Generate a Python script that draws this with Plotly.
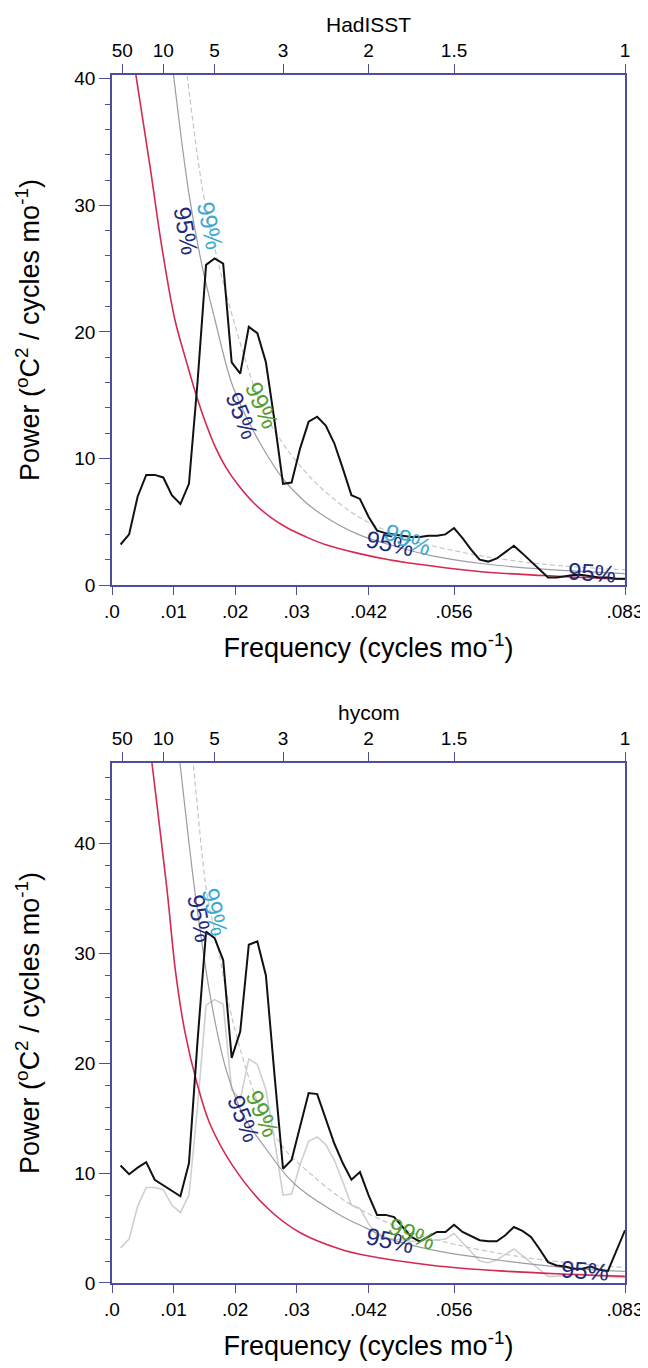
import plotly.graph_objects as go

# ---------------- data ----------------
freq = [0.00139, 0.00278, 0.00417, 0.00556, 0.00694, 0.00833, 0.00972, 0.01111, 0.0125, 0.01389,
        0.01528, 0.01667, 0.01806, 0.01944, 0.02083, 0.02222, 0.02361, 0.025, 0.02639, 0.02778,
        0.02917, 0.03056, 0.03194, 0.03333, 0.03472, 0.03611, 0.0375, 0.03889, 0.04028, 0.04167,
        0.04306, 0.04444, 0.04583, 0.04722, 0.04861, 0.05, 0.05139, 0.05278, 0.05417, 0.05556,
        0.05694, 0.05833, 0.05972, 0.06111, 0.0625, 0.06389, 0.06528, 0.06667, 0.06806, 0.06944,
        0.07083, 0.07222, 0.07361, 0.075, 0.07639, 0.07778, 0.07917, 0.08056, 0.08194, 0.08333]

hadisst = [3.2, 4.0, 7.0, 8.7, 8.7, 8.5, 7.1, 6.4, 8.0, 16.0,
           25.3, 25.8, 25.4, 17.6, 16.7, 20.4, 19.9, 17.6, 13.0, 8.0,
           8.1, 10.8, 12.9, 13.3, 12.6, 11.2, 9.2, 7.1, 6.8, 5.4,
           4.3, 4.1, 4.0, 3.9, 3.8, 3.8, 3.9, 3.9, 4.0, 4.5,
           3.7, 2.8, 2.0, 1.85, 2.1, 2.6, 3.1, 2.5, 1.85, 1.2,
           0.6, 0.6, 0.7, 0.8, 0.8, 0.7, 0.6, 0.6, 0.5, 0.5]

hycom = [10.7, 9.9, 10.5, 11.0, 9.4, 8.9, 8.4, 7.9, 10.9, 22.0,
         32.0, 31.4, 29.4, 20.5, 22.9, 30.8, 31.1, 28.0, 19.0, 10.4,
         11.2, 14.2, 17.3, 17.2, 15.0, 12.7, 10.9, 9.4, 10.1, 8.0,
         6.2, 6.2, 6.0, 5.1, 4.2, 3.8, 4.2, 4.65, 4.65, 5.3,
         4.65, 4.25, 3.9, 3.8, 3.8, 4.35, 5.1, 4.75, 4.2, 3.1,
         1.9, 1.6, 1.5, 1.3, 1.3, 1.5, 1.2, 1.1, 3.0, 4.8]

# red-noise and significance curves, top panel (HadISST)
had_red_f = [0.0035, 0.0062, 0.0080, 0.0102, 0.0120, 0.0135, 0.0150, 0.0167, 0.0185, 0.0205,
             0.0230, 0.0259, 0.0285, 0.0313, 0.0346, 0.0400, 0.0450, 0.0520, 0.0600, 0.0700, 0.0833]
had_red_v = [41.5, 33.0, 27.0, 21.0, 17.8, 15.3, 13.1, 11.0, 9.3, 7.9,
             6.5, 5.3, 4.5, 3.85, 3.2, 2.5, 2.0, 1.5, 1.05, 0.75, 0.45]
had_95_f = [0.0097, 0.0125, 0.0146, 0.0167, 0.0194, 0.0215, 0.0243, 0.0276, 0.0313, 0.0346,
            0.0400, 0.0450, 0.0520, 0.0600, 0.0700, 0.0833]
had_95_v = [41.5, 30.9, 25.3, 21.0, 16.0, 13.6, 11.0, 8.5, 6.6, 5.4,
            4.0, 3.2, 2.3, 1.7, 1.25, 0.9]
had_99_f = [0.0119, 0.0148, 0.0170, 0.0200, 0.0244, 0.0276, 0.0313, 0.0346, 0.0400, 0.0481,
            0.0520, 0.0600, 0.0700, 0.0833]
had_99_v = [41.5, 31.0, 26.0, 20.5, 14.0, 11.3, 9.0, 7.4, 5.4, 3.6,
            3.1, 2.3, 1.65, 1.2]

# bottom panel (hycom)
hy_red_f = [0.0060, 0.0065, 0.0089, 0.0104, 0.0119, 0.0138, 0.0159, 0.0197, 0.0251, 0.0305,
            0.0370, 0.0413, 0.0522, 0.0630, 0.0739, 0.0833]
hy_red_v = [50.0, 47.3, 36.0, 28.0, 22.7, 18.2, 14.5, 10.6, 6.9, 4.6,
            3.1, 2.5, 1.6, 1.1, 0.8, 0.6]
hy_95_f = [0.0105, 0.01105, 0.0135, 0.0160, 0.0185, 0.0214, 0.0249, 0.0283, 0.0305, 0.0370,
           0.0413, 0.0452, 0.0522, 0.0600, 0.0700, 0.0768, 0.0833]
hy_95_v = [50.0, 47.3, 35.5, 26.0, 19.5, 15.2, 12.3, 9.8, 8.6, 6.2,
           5.0, 4.0, 3.0, 2.3, 1.6, 1.25, 1.05]
hy_99_f = [0.0127, 0.0132, 0.0154, 0.0167, 0.0200, 0.0244, 0.0283, 0.0305, 0.0370, 0.0413,
           0.0487, 0.0522, 0.0600, 0.0700, 0.0833]
hy_99_v = [50.0, 47.3, 35.5, 32.0, 23.0, 15.5, 12.0, 10.8, 7.8, 6.4,
           4.6, 4.0, 3.0, 2.1, 1.4]

bottom_tick_vals = [0.0, 0.01, 0.02, 0.03, 0.04167, 0.05556, 0.08333]
bottom_tick_text = [".0", ".01", ".02", ".03", ".042", ".056", ".083"]
top_tick_vals = [0.001667, 0.008333, 0.016667, 0.027778, 0.041667, 0.055556, 0.083333]
top_tick_text = ["50", "10", "5", "3", "2", "1.5", "1"]

# significance labels: (text, f, value, angle, colour key)
had_labels = [("95%", 0.0120, 28.0, 80, "navy"), ("99%", 0.0159, 28.4, 78, "cyan"),
              ("95%", 0.0211, 13.4, 68, "navy"), ("99%", 0.0244, 14.2, 66, "green"),
              ("95%", 0.0452, 3.3, 12, "navy"), ("99%", 0.0481, 3.6, 22, "cyan"),
              ("95%", 0.0780, 1.0, 4, "navy")]
hy_labels = [("95%", 0.0143, 33.2, 80, "navy"), ("99%", 0.0167, 33.8, 78, "cyan"),
             ("95%", 0.0214, 15.0, 68, "navy"), ("99%", 0.0244, 15.4, 66, "green"),
             ("95%", 0.0452, 3.9, 12, "navy"), ("99%", 0.0487, 4.5, 22, "green"),
             ("95%", 0.0768, 1.15, 4, "navy")]

# ---------------- styling ----------------
FONT = "Liberation Sans, Arial, Helvetica, sans-serif"
AXC = "#4b4e9c"
RED = "#d42a52"
G95 = "#9c9ca6"
G99 = "#c6c6c6"
LBL = {"navy": "#1d2a7c", "cyan": "#3aa9d2", "green": "#4f9e2f"}

fig = go.Figure()

def add_panel(xa, ya, red_f, red_v, f95, v95, f99, v99):
    fig.add_trace(go.Scatter(x=f99, y=v99, mode="lines", xaxis=xa, yaxis=ya,
                             line=dict(color=G99, width=1.2, dash="5px,3px", shape="spline"),
                             hoverinfo="skip", showlegend=False))
    fig.add_trace(go.Scatter(x=f95, y=v95, mode="lines", xaxis=xa, yaxis=ya,
                             line=dict(color=G95, width=1.2, shape="spline"),
                             hoverinfo="skip", showlegend=False))
    fig.add_trace(go.Scatter(x=red_f, y=red_v, mode="lines", xaxis=xa, yaxis=ya,
                             line=dict(color=RED, width=1.6, shape="spline"),
                             hoverinfo="skip", showlegend=False))

# top panel
add_panel("x", "y", had_red_f, had_red_v, had_95_f, had_95_v, had_99_f, had_99_v)
fig.add_trace(go.Scatter(x=freq, y=hadisst, mode="lines", xaxis="x", yaxis="y",
                         line=dict(color="#111111", width=2), showlegend=False))
# bottom panel
fig.add_trace(go.Scatter(x=freq, y=hadisst, mode="lines", xaxis="x3", yaxis="y2",
                         line=dict(color="#cfcfcf", width=1.6), showlegend=False))
add_panel("x3", "y2", hy_red_f, hy_red_v, hy_95_f, hy_95_v, hy_99_f, hy_99_v)
fig.add_trace(go.Scatter(x=freq, y=hycom, mode="lines", xaxis="x3", yaxis="y2",
                         line=dict(color="#111111", width=2), showlegend=False))
# invisible traces for the period (top) axes
fig.add_trace(go.Scatter(x=[0.04], y=[-10], mode="markers", xaxis="x2", yaxis="y",
                         marker=dict(opacity=0), hoverinfo="skip", showlegend=False))
fig.add_trace(go.Scatter(x=[0.04], y=[-10], mode="markers", xaxis="x4", yaxis="y2",
                         marker=dict(opacity=0), hoverinfo="skip", showlegend=False))

XR = [0, 0.08333]
xtitle = dict(text="Frequency (cycles mo<sup>-1</sup>)", font=dict(size=27, family=FONT, color="black"), standoff=18)
ytitle = dict(text="Power (<sup>o</sup>C<sup>2</sup> / cycles mo<sup>-1</sup>)",
              font=dict(size=27, family=FONT, color="black"), standoff=27)
tickfont = dict(size=19, family=FONT, color="black")

def xbottom(anchor):
    return dict(range=XR, domain=[0, 1], anchor=anchor, tickmode="array",
                tickvals=bottom_tick_vals, ticktext=bottom_tick_text, ticks="outside",
                ticklen=8, tickcolor=AXC, tickwidth=1.2, showline=True, linecolor=AXC,
                linewidth=1.5, mirror=True, showgrid=False, zeroline=False,
                tickfont=tickfont, title=xtitle)

def xtop(overlay, anchor):
    return dict(range=XR, overlaying=overlay, side="top", anchor=anchor, tickmode="array",
                tickvals=top_tick_vals, ticktext=top_tick_text, ticks="outside",
                ticklen=9, tickcolor=AXC, tickwidth=1.2, showline=True, linecolor=AXC,
                linewidth=1.5, showgrid=False, zeroline=False, tickfont=tickfont)

def yax(rng, dom, anchor):
    return dict(range=rng, domain=dom, anchor=anchor, dtick=10, ticks="outside",
                ticklen=11, tickcolor=AXC, tickwidth=1.2, showline=True, linecolor=AXC,
                linewidth=1.5, mirror=True, showgrid=False, zeroline=False,
                tickfont=tickfont, title=ytitle,
                minor=dict(dtick=2, ticks="outside", ticklen=5, tickcolor=AXC, tickwidth=1))

annotations = []
for (t, f, v, a, c) in had_labels:
    annotations.append(dict(text=t, x=f, y=v, xref="x", yref="y", showarrow=False,
                            textangle=a, font=dict(size=24, family=FONT, color=LBL[c])))
for (t, f, v, a, c) in hy_labels:
    annotations.append(dict(text=t, x=f, y=v, xref="x3", yref="y2", showarrow=False,
                            textangle=a, font=dict(size=24, family=FONT, color=LBL[c])))
annotations.append(dict(text="HadISST", x=0.5, y=1.0422, xref="paper", yref="paper",
                        yanchor="middle", showarrow=False,
                        font=dict(size=21, family=FONT, color="black")))
annotations.append(dict(text="hycom", x=0.5, y=0.4719, xref="paper", yref="paper",
                        yanchor="middle", showarrow=False,
                        font=dict(size=21, family=FONT, color="black")))

# page has an 8px body margin, so the margins are reduced accordingly
fig.update_layout(
    width=648, height=1368,
    margin=dict(l=104, r=31, t=67, b=93, autoexpand=False),
    paper_bgcolor="white", plot_bgcolor="white",
    font=dict(family=FONT, color="black"),
    xaxis=xbottom("y"),
    xaxis2=xtop("x", "y"),
    xaxis3=xbottom("y2"),
    xaxis4=xtop("x3", "y2"),
    yaxis=yax([0, 40.3], [0.5778, 1.0], "x"),
    yaxis2=yax([0, 47.35], [0.0, 0.4305], "x3"),
    annotations=annotations,
    showlegend=False,
)

fig.write_html("out.html")
